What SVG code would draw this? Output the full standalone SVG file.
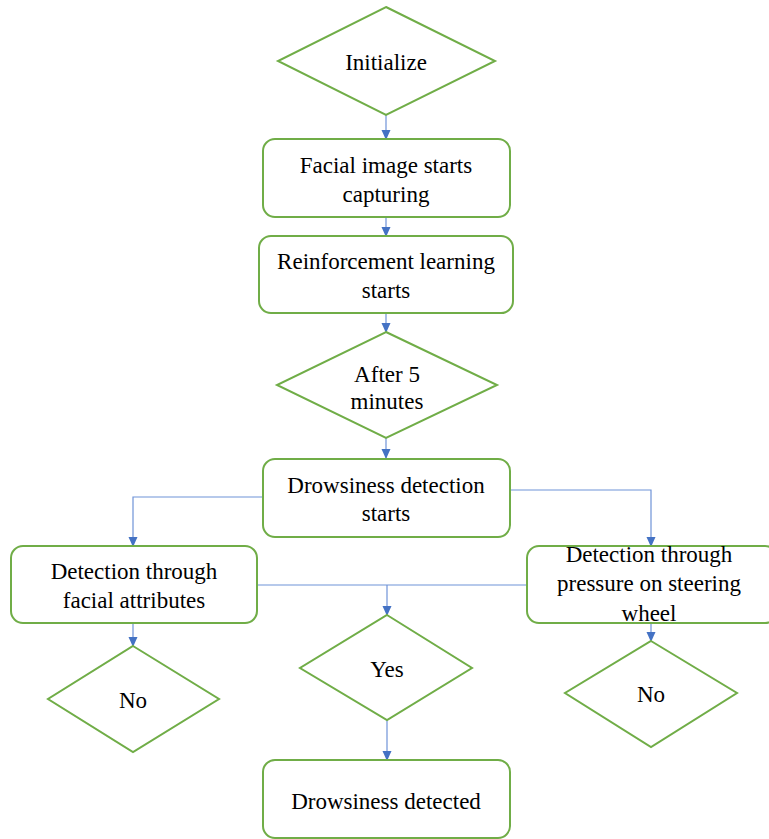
<svg xmlns="http://www.w3.org/2000/svg" width="769" height="839" viewBox="0 0 769 839">
<defs>
<style>
.shape{fill:#fff;stroke:#70AD47;stroke-width:2}
.conn{fill:none;stroke:#6F93D8;stroke-width:1.2}
.lbl{font-family:'Liberation Serif','Times New Roman',serif;font-size:23px;text-anchor:middle;fill:#000}
</style>
<marker id="arr" markerWidth="10" markerHeight="10" refX="9" refY="5" orient="auto" markerUnits="userSpaceOnUse">
<path d="M0,0.5 L10,5 L0,9.5 Z" fill="#4472C4"/>
</marker>
</defs>
<rect width="769" height="839" fill="#fff"/>
<g id="connectors">
<line class="conn" x1="386" y1="115" x2="386" y2="139" marker-end="url(#arr)"/>
<line class="conn" x1="386" y1="217" x2="386" y2="236" marker-end="url(#arr)"/>
<line class="conn" x1="386" y1="313" x2="386" y2="332" marker-end="url(#arr)"/>
<line class="conn" x1="386" y1="438" x2="386" y2="458" marker-end="url(#arr)"/>
<polyline class="conn" points="263,497 133,497 133,546" marker-end="url(#arr)"/>
<polyline class="conn" points="510,490 651,490 651,546" marker-end="url(#arr)"/>
<line class="conn" x1="257" y1="585" x2="527" y2="585"/>
<line class="conn" x1="387" y1="585" x2="387" y2="615" marker-end="url(#arr)"/>
<line class="conn" x1="133" y1="623" x2="133" y2="646" marker-end="url(#arr)"/>
<line class="conn" x1="651" y1="623" x2="651" y2="641" marker-end="url(#arr)"/>
<line class="conn" x1="387" y1="720" x2="387" y2="760" marker-end="url(#arr)"/>
</g>
<g id="initialize">
<polygon class="shape" points="386,7 495,61 386,115 278,61"/>
<text class="lbl" x="386" y="70">Initialize</text>
</g>
<g id="facial-capture">
<rect class="shape" x="263" y="139" width="247" height="78" rx="12"/>
<text class="lbl" x="386" y="173">Facial image starts</text>
<text class="lbl" x="386" y="202">capturing</text>
</g>
<g id="reinforcement">
<rect class="shape" x="259" y="236" width="254" height="77" rx="12"/>
<text class="lbl" x="386" y="269">Reinforcement learning</text>
<text class="lbl" x="386" y="298">starts</text>
</g>
<g id="after5">
<polygon class="shape" points="386,332 497,385 386,438 277,385"/>
<text class="lbl" x="387" y="382">After 5</text>
<text class="lbl" x="387" y="409">minutes</text>
</g>
<g id="drowsiness-start">
<rect class="shape" x="263" y="459" width="247" height="78" rx="12"/>
<text class="lbl" x="386" y="493">Drowsiness detection</text>
<text class="lbl" x="386" y="521">starts</text>
</g>
<g id="facial-attr">
<rect class="shape" x="11" y="546" width="246" height="77" rx="12"/>
<text class="lbl" x="134" y="579">Detection through</text>
<text class="lbl" x="134" y="608">facial attributes</text>
</g>
<g id="pressure">
<rect class="shape" x="527" y="546" width="250" height="77" rx="12"/>
<text class="lbl" x="649" y="562">Detection through</text>
<text class="lbl" x="649" y="591">pressure on steering</text>
<text class="lbl" x="649" y="621">wheel</text>
</g>
<g id="no-left">
<polygon class="shape" points="133,646 219,699 133,752 48,699"/>
<text class="lbl" x="133" y="708">No</text>
</g>
<g id="yes">
<polygon class="shape" points="387,615 472,668 387,720 300,668"/>
<text class="lbl" x="387" y="677">Yes</text>
</g>
<g id="no-right">
<polygon class="shape" points="651,641 737,693 651,747 565,693"/>
<text class="lbl" x="651" y="702">No</text>
</g>
<g id="detected">
<rect class="shape" x="263" y="760" width="247" height="78" rx="12"/>
<text class="lbl" x="386" y="809">Drowsiness detected</text>
</g>
</svg>
